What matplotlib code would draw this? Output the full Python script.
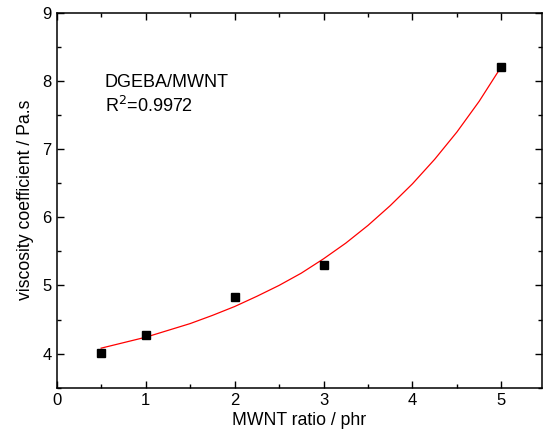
import numpy as np
from matplotlib import pyplot as plt
from matplotlib.ticker import MultipleLocator

plt.rcParams['font.family'] = ['Liberation Sans', 'DejaVu Sans']

# measured points
mwnt_ratio = [0.5, 1, 2, 3, 5]
viscosity = [4.01, 4.27, 4.83, 5.30, 8.21]

# fitted curve
fit_x = [0.5, 0.75, 1.0, 1.25, 1.5, 1.75, 2.0, 2.25, 2.5, 2.75,
         3.0, 3.25, 3.5, 3.75, 4.0, 4.25, 4.5, 4.75, 5.0]
fit_y = [4.08, 4.16, 4.24, 4.34, 4.44, 4.56, 4.69, 4.84, 5.00, 5.18,
         5.39, 5.62, 5.88, 6.17, 6.49, 6.85, 7.25, 7.70, 8.21]

fig = plt.figure(figsize=(5.49, 4.36), dpi=100)
ax = fig.add_axes([0.1033, 0.1108, 0.8845, 0.8601])

ax.plot(fit_x, fit_y, color="red", linewidth=0.9)
ax.plot(mwnt_ratio, viscosity, "s", color="black", markersize=6)

ax.set_xlim(0, 5.46)
ax.set_ylim(3.5, 9)
ax.xaxis.set_major_locator(MultipleLocator(1))
ax.xaxis.set_minor_locator(MultipleLocator(0.5))
ax.yaxis.set_major_locator(MultipleLocator(1))
ax.yaxis.set_minor_locator(MultipleLocator(0.5))
ax.tick_params(which="both", direction="in", top=True, right=True, labelsize=12)
ax.tick_params(which="major", length=5, width=1)
ax.tick_params(which="minor", length=3, width=1)
for s in ax.spines.values():
    s.set_linewidth(1.1)

ax.set_xlabel("MWNT ratio / phr", fontsize=12.7, labelpad=3)
ax.set_ylabel("viscosity coefficient / Pa.s", fontsize=12.7, labelpad=6)

ax.text(0.54, 7.91, "DGEBA/MWNT", fontsize=13)
ax.text(0.54, 7.55, r"R$^2$=0.9972", fontsize=13)

fig.savefig("out.png", dpi=100)
